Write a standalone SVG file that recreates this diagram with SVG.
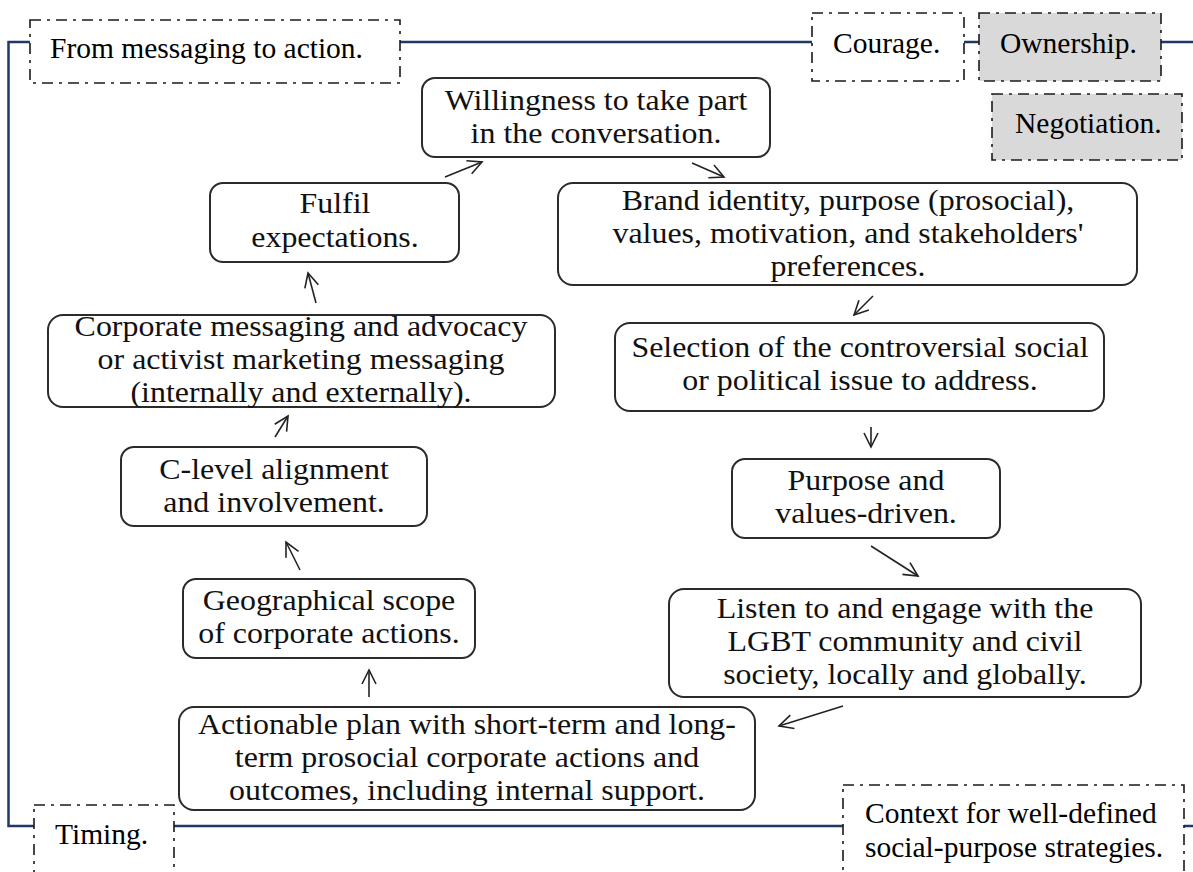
<svg xmlns="http://www.w3.org/2000/svg" width="1193" height="872" viewBox="0 0 1193 872">
  <defs>
    <style>
      .frame { fill: none; stroke: #1f3864; stroke-width: 2.5; }
      .tag { fill: #ffffff; stroke: #1a1a1a; stroke-width: 1.6; stroke-dasharray: 11 6 3 6; }
      .tag.grey { fill: #d9d9d9; }
      .tagtxt { font-family: "Liberation Serif", "Times New Roman", serif; font-size: 29.5px; fill: #000000; }
      .node rect { fill: #ffffff; stroke: #2b2b2b; stroke-width: 2; }
      .node text { font-family: "Liberation Serif", "Times New Roman", serif; font-size: 28.5px; fill: #111111; text-anchor: middle; }
      .link { fill: none; stroke: #222222; stroke-width: 1.6; marker-end: url(#open); }
    </style>
    <marker id="open" markerUnits="userSpaceOnUse" viewBox="-16 -9 18 18" markerWidth="18" markerHeight="18" refX="0" refY="0" orient="auto">
      <path d="M-14,-7 L0,0 L-14,7" fill="none" stroke="#222222" stroke-width="1.6"/>
    </marker>
  </defs>

  <rect width="1193" height="872" fill="#ffffff"/>

  <!-- outer navy frame linking the context labels -->
  <g id="frame">
    <path class="frame" d="M30,42 H8.5 V826 H34"/>
    <path class="frame" d="M400,42 H812"/>
    <path class="frame" d="M964,42 H979"/>
    <path class="frame" d="M1161,42 H1193"/>
    <path class="frame" d="M174,826 H843"/>
    <path class="frame" d="M1184,826 H1193"/>
  </g>

  <!-- context labels (dash-dot boxes) -->
  <g id="label-messaging">
    <rect class="tag" x="30" y="20" width="370" height="63"/>
    <text class="tagtxt" x="50" y="58">From messaging to action.</text>
  </g>
  <g id="label-courage">
    <rect class="tag" x="812" y="13" width="152" height="68"/>
    <text class="tagtxt" x="833" y="53">Courage.</text>
  </g>
  <g id="label-ownership">
    <rect class="tag grey" x="979" y="13" width="182" height="68"/>
    <text class="tagtxt" x="1000" y="53">Ownership.</text>
  </g>
  <g id="label-negotiation">
    <rect class="tag grey" x="992" y="94" width="190" height="66"/>
    <text class="tagtxt" x="1015" y="133">Negotiation.</text>
  </g>
  <g id="label-timing">
    <rect class="tag" x="34" y="805" width="140" height="80"/>
    <text class="tagtxt" x="55" y="844">Timing.</text>
  </g>
  <g id="label-context">
    <rect class="tag" x="843" y="785" width="341" height="100"/>
    <text class="tagtxt" x="865" y="823">Context for well-defined</text>
    <text class="tagtxt" x="865" y="857">social-purpose strategies.</text>
  </g>

  <!-- process steps (node text is set slightly wide) -->
  <g id="node-willingness" class="node">
    <rect x="422" y="78" width="348" height="79" rx="13"/>
    <g transform="translate(596 0) scale(1.12 1)">
      <text x="0" y="110">Willingness to take part</text>
      <text x="0" y="143">in the conversation.</text>
    </g>
  </g>
  <g id="node-brand" class="node">
    <rect x="558" y="183" width="579" height="102" rx="15"/>
    <g transform="translate(848 0) scale(1.12 1)">
      <text x="0" y="210">Brand identity, purpose (prosocial),</text>
      <text x="0" y="243">values, motivation, and stakeholders'</text>
      <text x="0" y="276">preferences.</text>
    </g>
  </g>
  <g id="node-selection" class="node">
    <rect x="615" y="323" width="489" height="88" rx="15"/>
    <g transform="translate(860 0) scale(1.12 1)">
      <text x="0" y="357">Selection of the controversial social</text>
      <text x="0" y="390">or political issue to address.</text>
    </g>
  </g>
  <g id="node-purpose" class="node">
    <rect x="732" y="459" width="268" height="79" rx="13"/>
    <g transform="translate(866 0) scale(1.12 1)">
      <text x="0" y="490">Purpose and</text>
      <text x="0" y="523">values-driven.</text>
    </g>
  </g>
  <g id="node-listen" class="node">
    <rect x="669" y="589" width="472" height="108" rx="15"/>
    <g transform="translate(905 0) scale(1.12 1)">
      <text x="0" y="618">Listen to and engage with the</text>
      <text x="0" y="651">LGBT community and civil</text>
      <text x="0" y="684">society, locally and globally.</text>
    </g>
  </g>
  <g id="node-actionable" class="node">
    <rect x="179" y="707" width="576" height="103" rx="15"/>
    <g transform="translate(467 0) scale(1.12 1)">
      <text x="0" y="734">Actionable plan with short-term and long-</text>
      <text x="0" y="767">term prosocial corporate actions and</text>
      <text x="0" y="800">outcomes, including internal support.</text>
    </g>
  </g>
  <g id="node-geographical" class="node">
    <rect x="183" y="579" width="292" height="79" rx="13"/>
    <g transform="translate(329 0) scale(1.12 1)">
      <text x="0" y="610">Geographical scope</text>
      <text x="0" y="643">of corporate actions.</text>
    </g>
  </g>
  <g id="node-clevel" class="node">
    <rect x="121" y="447" width="306" height="79" rx="13"/>
    <g transform="translate(274 0) scale(1.12 1)">
      <text x="0" y="479">C-level alignment</text>
      <text x="0" y="512">and involvement.</text>
    </g>
  </g>
  <g id="node-corporate" class="node">
    <rect x="48" y="315" width="507" height="92" rx="15"/>
    <g transform="translate(301 0) scale(1.12 1)">
      <text x="0" y="336">Corporate messaging and advocacy</text>
      <text x="0" y="369">or activist marketing messaging</text>
      <text x="0" y="402">(internally and externally).</text>
    </g>
  </g>
  <g id="node-fulfil" class="node">
    <rect x="210" y="183" width="249" height="79" rx="13"/>
    <g transform="translate(335 0) scale(1.12 1)">
      <text x="0" y="213">Fulfil</text>
      <text x="0" y="247">expectations.</text>
    </g>
  </g>

  <!-- cycle connectors -->
  <g id="connectors">
    <line class="link" x1="445" y1="177" x2="482" y2="162"/>
    <line class="link" x1="692" y1="163" x2="724" y2="177"/>
    <line class="link" x1="873" y1="296" x2="854" y2="315"/>
    <line class="link" x1="871" y1="427" x2="871" y2="447"/>
    <line class="link" x1="871" y1="546" x2="918" y2="576"/>
    <line class="link" x1="843" y1="706" x2="779" y2="726"/>
    <line class="link" x1="369" y1="697" x2="369" y2="670"/>
    <line class="link" x1="300" y1="570" x2="286" y2="542"/>
    <line class="link" x1="275" y1="437" x2="288" y2="416"/>
    <line class="link" x1="316" y1="303" x2="308" y2="273"/>
  </g>
</svg>
